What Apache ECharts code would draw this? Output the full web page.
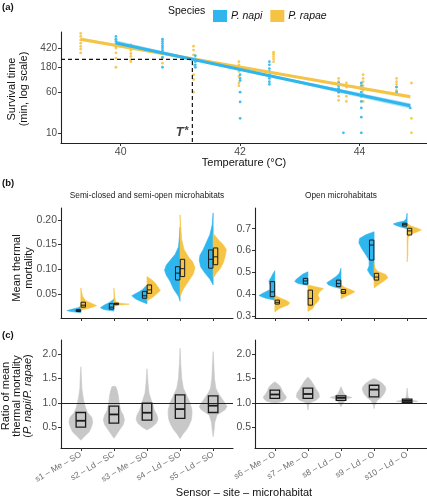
<!DOCTYPE html>
<html><head><meta charset="utf-8">
<script src="https://cdn.jsdelivr.net/npm/echarts@6/dist/echarts.min.js"></script>
<style>html,body{margin:0;padding:0;background:#fff}#c{width:427px;height:500px}</style>
</head><body><div id="c"></div>
<script>
const FONT = '"Liberation Sans", Arial, Helvetica, sans-serif';
const BLUE = '#2FB6EE', YELLOW = '#F6C445', GREY = '#C8C8C8', BOXC = '#1a1a1a';

// ---------- Panel (a): survival time vs temperature ----------
const tempTicks = [40, 42, 44];
const survTicks = [10, 60, 180, 420];
const napiPoints = [
  [39.92, [700, 620, 560, 500, 460]],
  [40.70, [620, 560, 510, 460, 420, 380, 330, 280, 180]],
  [41.25, [300, 260, 230, 200, 180]],
  [42.00, [160, 130, 110, 100, 60, 39, 19]],
  [42.49, [230, 200, 170, 150, 130, 110, 95, 85]],
  [43.65, [90, 80, 70, 60]],
  [43.73, [10]],
  [44.03, [90, 80, 70, 60, 50, 40, 30, 20, 10]],
  [44.62, [75, 60]],
  [44.85, [30]]
];
const rapaePoints = [
  [39.33, [800, 700, 600, 520, 450, 400, 340]],
  [39.92, [420, 340, 270, 180]],
  [40.17, [480, 430, 380, 330, 290, 250, 230]],
  [40.70, [350, 270, 215]],
  [41.22, [455, 384, 310, 250, 200, 130, 105, 60]],
  [41.98, [230, 200, 150, 120, 90, 80]],
  [42.56, [350, 320, 290, 260, 230]],
  [43.65, [110, 95, 80, 70, 60, 50, 42]],
  [43.78, [90, 75, 60, 50, 40]],
  [44.06, [130, 110, 95, 80, 65, 55, 40]],
  [44.62, [110, 95, 85, 75, 65, 55]],
  [44.87, [90, 19, 10]]
];
const napiFitT = [39.92, 44.85], napiFit = [525, 33];
const rapaeFitT = [39.33, 44.85], rapaeFit = [615, 49];
const napiBandT = [39.92, 41.2, 42.5, 44.85], napiLo = [468, 244, 117, 29], napiHi = [589, 267, 129, 37];
const rapaeBandT = [39.33, 41.2, 42.5, 44.85], rapaeLo = [569, 254, 140, 45], rapaeHi = [668, 269, 148, 53];
const tStar = 41.2, survAtTStar = 255;
const tempMin = 39.0, tempMax = 45.13, survMin = 6.4, survMax = 850;

// ---------- Panel (b): mean thermal mortality (split violins) ----------
const semiLabels = ['s1 – Me – SO', 's2 – Ld – SC', 's3 – Me – SO', 's4 – Ld – SO', 's5 – Ld – SO'];
const openLabels = ['s6 – Me – O', 's7 – Me – O', 's8 – Ld – O', 's9 – Ld – O', 's10 – Ld – O'];
const semiMortTicks = [0.05, 0.10, 0.15, 0.20];
const openMortTicks = [0.3, 0.4, 0.5, 0.6, 0.7];
const ratioTicks = [0.5, 1.0, 1.5, 2.0];

// violin profiles: [value, half width (fraction of category spacing)]
const napiSemiViolin = [
  [[0.012,0],[0.014,0.3],[0.016,0.42],[0.019,0.25],[0.022,0.08],[0.025,0]],
  [[0.015,0],[0.018,0.3],[0.022,0.41],[0.027,0.3],[0.032,0.15],[0.038,0.02],[0.040,0]],
  [[0.030,0],[0.035,0.2],[0.040,0.35],[0.046,0.46],[0.052,0.3],[0.058,0.15],[0.065,0.05],[0.068,0]],
  [[0.035,0],[0.045,0.05],[0.060,0.2],[0.075,0.3],[0.088,0.42],[0.098,0.47],[0.108,0.42],[0.118,0.3],[0.130,0.15],[0.145,0.05],[0.165,0.02],[0.185,0]],
  [[0.068,0],[0.080,0.1],[0.092,0.25],[0.105,0.38],[0.118,0.42],[0.128,0.4],[0.140,0.3],[0.155,0.2],[0.170,0.1],[0.190,0.03],[0.214,0]]
];
const rapaeSemiViolin = [
  [[0.017,0],[0.021,0.25],[0.026,0.48],[0.030,0.35],[0.036,0.15],[0.045,0.05],[0.062,0]],
  [[0.024,0],[0.027,0.1],[0.029,0.46],[0.031,0.2],[0.034,0.05],[0.045,0.02],[0.062,0]],
  [[0.036,0],[0.042,0.15],[0.050,0.3],[0.057,0.4],[0.064,0.33],[0.072,0.25],[0.078,0.15],[0.085,0]],
  [[0.045,0],[0.060,0.1],[0.075,0.25],[0.090,0.4],[0.103,0.45],[0.115,0.38],[0.125,0.25],[0.140,0.12],[0.160,0.05],[0.185,0.02],[0.210,0]],
  [[0.082,0],[0.092,0.1],[0.102,0.22],[0.112,0.3],[0.122,0.35],[0.132,0.38],[0.140,0.4],[0.150,0.3],[0.160,0.15],[0.173,0]]
];
const napiOpenViolin = [
  [[0.372,0],[0.382,0.3],[0.393,0.48],[0.405,0.35],[0.420,0.15],[0.440,0.15],[0.460,0.18],[0.480,0.1],[0.495,0.05],[0.507,0]],
  [[0.440,0],[0.448,0.3],[0.458,0.4],[0.468,0.35],[0.480,0.25],[0.492,0.15],[0.502,0]],
  [[0.425,0],[0.432,0.2],[0.442,0.38],[0.452,0.43],[0.465,0.3],[0.480,0.15],[0.495,0.05],[0.518,0]],
  [[0.470,0],[0.490,0.12],[0.510,0.2],[0.530,0.15],[0.555,0.15],[0.580,0.25],[0.610,0.38],[0.635,0.46],[0.655,0.44],[0.672,0.25],[0.686,0]],
  [[0.700,0],[0.708,0.2],[0.716,0.35],[0.722,0.42],[0.728,0.3],[0.735,0.1],[0.745,0.03],[0.771,0]]
];
const rapaeOpenViolin = [
  [[0.318,0],[0.335,0.15],[0.350,0.4],[0.360,0.45],[0.370,0.35],[0.380,0.2],[0.390,0.05],[0.398,0]],
  [[0.320,0],[0.335,0.15],[0.350,0.2],[0.365,0.3],[0.380,0.35],[0.395,0.3],[0.410,0.35],[0.425,0.47],[0.435,0.2],[0.442,0]],
  [[0.378,0],[0.390,0.15],[0.400,0.3],[0.410,0.42],[0.420,0.3],[0.430,0.12],[0.442,0]],
  [[0.428,0],[0.445,0.15],[0.460,0.3],[0.475,0.42],[0.490,0.35],[0.505,0.1],[0.520,0.03],[0.541,0]],
  [[0.548,0],[0.580,0.02],[0.620,0.02],[0.660,0.03],[0.675,0.1],[0.685,0.3],[0.694,0.43],[0.703,0.3],[0.712,0.12],[0.725,0]]
];
// boxes: [q1, median, q3]
const napiSemiBox = [[0.014,0.016,0.018],[0.019,0.023,0.030],[0.041,0.046,0.055],[0.078,0.092,0.105],[0.102,0.120,0.139]];
const rapaeSemiBox = [[0.023,0.027,0.033],[0.028,0.030,0.031],[0.051,0.058,0.068],[0.085,0.101,0.120],[0.109,0.125,0.143]];
const napiOpenBox = [[0.388,0.41,0.457],[0.446,0.46,0.472],[0.434,0.448,0.464],[0.556,0.625,0.648],[0.712,0.72,0.725]];
const rapaeOpenBox = [[0.354,0.362,0.372],[0.349,0.38,0.418],[0.403,0.41,0.421],[0.464,0.478,0.495],[0.671,0.69,0.702]];

// ---------- Panel (c): ratio of mean thermal mortality ----------
const ratioSemiViolin = [
  [[0.23,0],[0.30,0.1],[0.40,0.25],[0.50,0.32],[0.60,0.36],[0.70,0.33],[0.80,0.2],[0.90,0.14],[1.00,0.1],[1.15,0.06],[1.30,0.03],[1.50,0.02],[1.74,0]],
  [[0.27,0],[0.35,0.08],[0.45,0.18],[0.55,0.28],[0.65,0.32],[0.75,0.28],[0.85,0.2],[1.00,0.16],[1.15,0.13],[1.25,0.1],[1.33,0.06],[1.34,0]],
  [[0.44,0],[0.50,0.15],[0.58,0.28],[0.66,0.33],[0.75,0.3],[0.85,0.22],[0.95,0.18],[1.05,0.13],[1.20,0.06],[1.40,0.03],[1.70,0]],
  [[0.26,0],[0.35,0.08],[0.45,0.2],[0.55,0.28],[0.65,0.34],[0.75,0.36],[0.85,0.36],[1.00,0.3],[1.15,0.2],[1.30,0.1],[1.50,0.05],[1.80,0.02],[2.12,0]],
  [[0.30,0],[0.45,0.03],[0.60,0.05],[0.75,0.12],[0.85,0.35],[0.92,0.42],[1.00,0.35],[1.10,0.25],[1.20,0.15],[1.30,0.08],[1.50,0.04],[1.80,0.02],[2.05,0]]
];
const ratioOpenViolin = [
  [[0.99,0],[1.03,0.25],[1.08,0.33],[1.12,0.35],[1.18,0.28],[1.25,0.22],[1.32,0.18],[1.38,0.1],[1.43,0]],
  [[0.85,0],[0.95,0.02],[1.00,0.06],[1.05,0.25],[1.12,0.35],[1.20,0.33],[1.28,0.25],[1.36,0.18],[1.45,0.1],[1.53,0]],
  [[0.92,0],[0.98,0.05],[1.04,0.12],[1.08,0.18],[1.11,0.33],[1.13,0.2],[1.18,0.1],[1.25,0.05],[1.33,0]],
  [[0.88,0],[0.95,0.02],[1.05,0.1],[1.10,0.2],[1.18,0.3],[1.26,0.35],[1.32,0.35],[1.40,0.25],[1.46,0.12],[1.50,0]],
  [[0.99,0],[1.01,0.1],[1.03,0.32],[1.05,0.15],[1.08,0.05],[1.15,0.02],[1.30,0]]
];
const ratioSemiBox = [[0.50,0.63,0.80],[0.58,0.76,0.93],[0.645,0.795,0.99],[0.68,0.87,1.16],[0.80,0.94,1.14]];
const ratioOpenBox = [[1.09,1.17,1.26],[1.09,1.18,1.30],[1.05,1.10,1.14],[1.12,1.27,1.36],[1.01,1.04,1.075]];
const ratioRef = 1.0;

// ---------- helpers ----------
const catPos = [1, 2, 3, 4, 5];
const lg = Math.log10;

function axisBase(extra) {
  const base = {
    axisLine: { show: true, onZero: false, lineStyle: { color: '#222', width: 1.1 } },
    axisTick: { show: true, length: 3, lineStyle: { color: '#333', width: 1 } },
    axisLabel: { color: '#4d4d4d', fontSize: 10, fontFamily: FONT, margin: 4 },
    splitLine: { show: false }
  };
  for (const k in extra) {
    if (typeof extra[k] === 'object' && !Array.isArray(extra[k]) && base[k]) Object.assign(base[k], extra[k]);
    else base[k] = extra[k];
  }
  return base;
}

function violinSeries(ax, profiles, side, color) {
  return {
    type: 'custom', xAxisIndex: ax, yAxisIndex: ax, silent: true, z: 2,
    data: profiles.map((p, i) => [catPos[i], p[0][0], p[p.length - 1][0]]),
    encode: { x: 0, y: [1, 2] },
    renderItem(params, api) {
      const i = params.dataIndex, prof = profiles[i], x = catPos[i];
      const unit = api.size([1, 0])[0];
      const right = prof.map(([v, w]) => { const c = api.coord([x, v]); return [c[0] + w * unit, c[1]]; });
      const left = prof.map(([v, w]) => { const c = api.coord([x, v]); return [c[0] - w * unit, c[1]]; });
      let pts;
      if (side > 0) pts = right.concat([api.coord([x, prof[prof.length - 1][0]]), api.coord([x, prof[0][0]])]);
      else if (side < 0) pts = left.concat([api.coord([x, prof[prof.length - 1][0]]), api.coord([x, prof[0][0]])]);
      else pts = right.concat(left.slice().reverse());
      return { type: 'polygon', shape: { points: pts }, style: { fill: color, stroke: color, lineWidth: 0.6 } };
    }
  };
}

function boxSeries(ax, boxes, offsetPx, widthPx, lw, medLw, extra) {
  const s = {
    type: 'custom', xAxisIndex: ax, yAxisIndex: ax, silent: true, z: 5,
    data: boxes.map((b, i) => [catPos[i], b[0], b[1], b[2]]),
    encode: { x: 0, y: [1, 3] },
    renderItem(params, api) {
      const i = params.dataIndex, b = boxes[i], x = catPos[i];
      const cx = api.coord([x, b[1]])[0] + offsetPx;
      const y1 = api.coord([x, b[0]])[1], ym = api.coord([x, b[1]])[1], y3 = api.coord([x, b[2]])[1];
      return { type: 'group', children: [
        { type: 'rect', shape: { x: cx - widthPx / 2, y: y3, width: widthPx, height: Math.max(y1 - y3, 0.5) },
          style: { fill: 'rgba(0,0,0,0)', stroke: BOXC, lineWidth: lw } },
        { type: 'line', shape: { x1: cx - widthPx / 2, y1: ym, x2: cx + widthPx / 2, y2: ym },
          style: { stroke: BOXC, lineWidth: medLw } }
      ] };
    }
  };
  return Object.assign(s, extra || {});
}

function bandSeries(T, lo, hi, color) {
  return {
    type: 'custom', xAxisIndex: 0, yAxisIndex: 0, silent: true, z: 3,
    data: [[T[0], lg(lo[0])]],
    renderItem(params, api) {
      const up = T.map((t, k) => api.coord([t, lg(hi[k])]));
      const dn = T.map((t, k) => api.coord([t, lg(lo[k])])).reverse();
      return { type: 'polygon', shape: { points: up.concat(dn) }, style: { fill: color, opacity: 0.4 } };
    }
  };
}

function pointsData(list) {
  const out = [];
  list.forEach(([t, vals]) => vals.forEach(v => out.push([t, lg(v)])));
  return out;
}

const gridA = { left: 61, top: 32, width: 366, height: 111 };
const grids = [
  gridA,
  { left: 61, top: 208, width: 172, height: 110 },
  { left: 255, top: 208, width: 172, height: 110 },
  { left: 61, top: 340, width: 172, height: 108 },
  { left: 255, top: 340, width: 172, height: 108 }
].map(g => Object.assign({ outerBoundsMode: 'none', containLabel: false }, g));

const xAxes = [
  axisBase({ gridIndex: 0, type: 'value', min: tempMin, max: tempMax,
    axisLabel: { customValues: tempTicks, fontSize: 10.5 }, axisTick: { customValues: tempTicks } }),
  axisBase({ gridIndex: 1, type: 'value', min: 0.4, max: 5.6,
    axisLabel: { show: false, customValues: catPos }, axisTick: { customValues: catPos } }),
  axisBase({ gridIndex: 2, type: 'value', min: 0.4, max: 5.6,
    axisLabel: { show: false, customValues: catPos }, axisTick: { customValues: catPos } }),
  axisBase({ gridIndex: 3, type: 'value', min: 0.4, max: 5.6,
    axisLabel: { customValues: catPos, rotate: 30, margin: 6, fontSize: 8.5, color: '#707070', formatter: v => semiLabels[Math.round(v) - 1] },
    axisTick: { customValues: catPos } }),
  axisBase({ gridIndex: 4, type: 'value', min: 0.4, max: 5.6,
    axisLabel: { customValues: catPos, rotate: 30, margin: 6, fontSize: 8.5, color: '#707070', formatter: v => openLabels[Math.round(v) - 1] },
    axisTick: { customValues: catPos } })
];
const yAxes = [
  axisBase({ gridIndex: 0, type: 'value', min: lg(survMin), max: lg(survMax),
    axisLabel: { customValues: survTicks.map(lg), formatter: v => String(Math.round(Math.pow(10, v))) },
    axisTick: { customValues: survTicks.map(lg) } }),
  axisBase({ gridIndex: 1, type: 'value', min: 0.001, max: 0.224,
    axisLabel: { customValues: semiMortTicks, fontSize: 10.5, formatter: v => v.toFixed(2) },
    axisTick: { customValues: semiMortTicks } }),
  axisBase({ gridIndex: 2, type: 'value', min: 0.29, max: 0.795,
    axisLabel: { customValues: openMortTicks, fontSize: 10.5, formatter: v => v.toFixed(1) },
    axisTick: { customValues: openMortTicks } }),
  axisBase({ gridIndex: 3, type: 'value', min: 0.07, max: 2.29,
    axisLabel: { customValues: ratioTicks, fontSize: 10.5, formatter: v => v.toFixed(1) },
    axisTick: { customValues: ratioTicks } }),
  axisBase({ gridIndex: 4, type: 'value', min: 0.07, max: 2.29,
    axisLabel: { customValues: ratioTicks, fontSize: 10.5, formatter: v => v.toFixed(1) },
    axisTick: { customValues: ratioTicks } })
];

const refLine = { silent: true, symbol: 'none', label: { show: false },
  lineStyle: { color: '#222', width: 1.2, type: 'solid' }, data: [{ yAxis: ratioRef }] };

const series = [
  // panel a
  { type: 'scatter', xAxisIndex: 0, yAxisIndex: 0, silent: true, z: 2, symbolSize: 2.8,
    itemStyle: { color: YELLOW, opacity: 0.9 }, data: pointsData(rapaePoints) },
  { type: 'scatter', xAxisIndex: 0, yAxisIndex: 0, silent: true, z: 2, symbolSize: 2.8,
    itemStyle: { color: BLUE, opacity: 0.9 }, data: pointsData(napiPoints) },
  bandSeries(rapaeBandT, rapaeLo, rapaeHi, YELLOW),
  bandSeries(napiBandT, napiLo, napiHi, BLUE),
  { name: 'P. rapae', type: 'line', xAxisIndex: 0, yAxisIndex: 0, silent: true, z: 4, showSymbol: false,
    lineStyle: { color: YELLOW, width: 3 }, itemStyle: { color: YELLOW },
    data: rapaeFitT.map((t, k) => [t, lg(rapaeFit[k])]) },
  { name: 'P. napi', type: 'line', xAxisIndex: 0, yAxisIndex: 0, silent: true, z: 4, showSymbol: false,
    lineStyle: { color: BLUE, width: 3 }, itemStyle: { color: BLUE },
    data: napiFitT.map((t, k) => [t, lg(napiFit[k])]) },
  { type: 'line', xAxisIndex: 0, yAxisIndex: 0, silent: true, z: 6, showSymbol: false,
    lineStyle: { color: '#111', width: 1.2, type: [4, 3] },
    data: [[tempMin, lg(survAtTStar)], [tStar, lg(survAtTStar)], [tStar, lg(survMin)]] },
  { type: 'scatter', xAxisIndex: 0, yAxisIndex: 0, silent: true, z: 6, symbolSize: 1,
    itemStyle: { color: 'rgba(0,0,0,0)' }, data: [[tStar, lg(survTicks[0])]],
    label: { show: true, position: 'left', distance: 3, formatter: '{t|T}{s|*}',
      rich: { t: { fontStyle: 'italic', fontWeight: 'bold', fontSize: 13, fontFamily: FONT, color: '#111' },
              s: { fontWeight: 'bold', fontSize: 11, fontFamily: FONT, color: '#111', verticalAlign: 'top', padding: [0, 0, 3, 1] } } } },
  // panel b
  violinSeries(1, napiSemiViolin, -1, BLUE),
  violinSeries(1, rapaeSemiViolin, 1, YELLOW),
  boxSeries(1, napiSemiBox, -2.4, 4.4, 1, 1),
  boxSeries(1, rapaeSemiBox, 2.4, 4.4, 1, 1),
  violinSeries(2, napiOpenViolin, -1, BLUE),
  violinSeries(2, rapaeOpenViolin, 1, YELLOW),
  boxSeries(2, napiOpenBox, -2.4, 4.4, 1, 1),
  boxSeries(2, rapaeOpenBox, 2.4, 4.4, 1, 1),
  // panel c
  violinSeries(3, ratioSemiViolin, 0, GREY),
  boxSeries(3, ratioSemiBox, 0, 9.5, 1.3, 1.8, { markLine: refLine }),
  violinSeries(4, ratioOpenViolin, 0, GREY),
  boxSeries(4, ratioOpenBox, 0, 9.5, 1.3, 1.8, { markLine: refLine })
];

function vText(x, y, text, size, lh, rich) {
  return { type: 'text', x: x, y: y, rotation: Math.PI / 2, silent: true,
    style: { text: text, fontSize: size, fontFamily: FONT, fill: '#111', align: 'center', verticalAlign: 'middle',
      lineHeight: lh, rich: rich || {} } };
}
function hText(x, y, text, size, opts) {
  return { type: 'text', x: x, y: y, silent: true,
    style: Object.assign({ text: text, fontSize: size, fontFamily: FONT, fill: '#111', align: 'left', verticalAlign: 'middle' }, opts || {}) };
}

const graphic = [
  hText(2, 7, '(a)', 9.5, { fontWeight: 'bold' }),
  hText(2, 183, '(b)', 9.5, { fontWeight: 'bold' }),
  hText(2, 335, '(c)', 9.5, { fontWeight: 'bold' }),
  hText(168, 11, 'Species', 10.5),
  vText(18, 89, 'Survival time\n(min, log scale)', 11, 12.5),
  hText(244, 163, 'Temperature (°C)', 11, { align: 'center' }),
  vText(23, 268, 'Mean thermal\nmortality', 11, 11.5),
  hText(147, 196, 'Semi-closed and semi-open microhabitats', 8.3, { align: 'center', fill: '#222' }),
  hText(341, 196, 'Open microhabitats', 8.3, { align: 'center', fill: '#222' }),
  vText(17, 396, 'Ratio of mean\nthermal mortality\n({i|P. napi}/{i|P. rapae})', 11, 11,
    { i: { fontStyle: 'italic', fontSize: 11, fontFamily: FONT, fill: '#111' } }),
  hText(244, 493, 'Sensor – site – microhabitat', 11, { align: 'center' })
];

const chart = echarts.init(document.getElementById('c'), null, { renderer: 'canvas' });
chart.setOption({
  animation: false,
  backgroundColor: '#fff',
  textStyle: { fontFamily: FONT },
  grid: grids,
  xAxis: xAxes,
  yAxis: yAxes,
  legend: {
    left: 208, top: 5, itemWidth: 14, itemHeight: 12, itemGap: 8, selectedMode: false,
    textStyle: { fontSize: 10.5, fontStyle: 'italic', fontFamily: FONT, color: '#111', padding: [0, 0, 0, -1] },
    data: [{ name: 'P. napi', icon: 'rect', itemStyle: { color: BLUE } },
           { name: 'P. rapae', icon: 'rect', itemStyle: { color: YELLOW } }]
  },
  graphic: graphic,
  series: series
});
</script></body></html>
